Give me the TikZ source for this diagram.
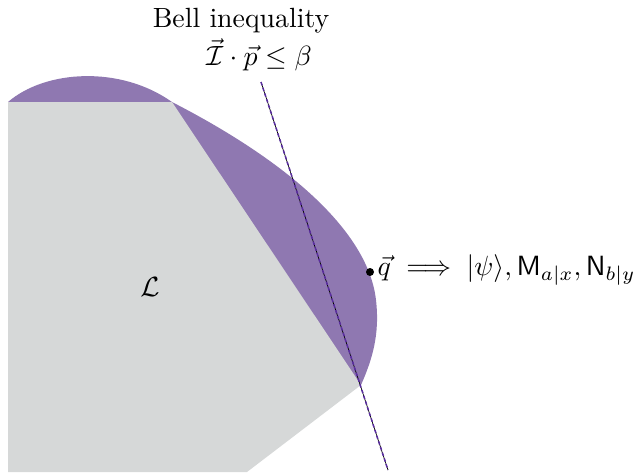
\documentclass[tikz,border=0pt]{standalone}
\usepackage{amsmath,amssymb}
\definecolor{blobpurple}{HTML}{8F78B1}
\definecolor{localgray}{HTML}{D6D8D8}
\definecolor{dashpurple}{HTML}{5A2DA0}
\begin{document}
\begin{tikzpicture}[x=1pt,y=-1pt,
  lbl/.style={inner sep=0pt, scale=2.78},
  dotstyle/.style={circle, fill=black, inner sep=0pt, minimum size=8pt}]
\useasboundingbox (0,0) rectangle (635,472);
% quantum set (purple)
\fill[blobpurple] (8,102) .. controls (45,70) and (120,65) .. (172,102)
  .. controls (285,160) and (368,230) .. (376,300)
  .. controls (380,335) and (372,360) .. (361,385)
  -- cycle;
% local polytope (gray)
\fill[localgray] (8,102) -- (172,102) -- (361,385) -- (247,472) -- (8,472) -- cycle;
% Bell inequality line
\coordinate (ltop) at (261,82);
\coordinate (lbot) at (388,470);
\draw[black, line width=0.7pt] (ltop) -- (lbot);
\draw[dashpurple, line width=1.5pt, dash pattern=on 3.5pt off 2.5pt] (ltop) -- (lbot);
% labels
\node[lbl] (bell) at (241,21) {Bell inequality};
\node[lbl] (ineq) at (259,55) {$\vec{\mathcal{I}}\cdot\vec{p}\leq\beta$};
\node[lbl] (L) at (150,287) {$\mathcal{L}$};
\node[dotstyle] (q) at (370,272) {};
\node[lbl, anchor=west] (qlabel) at (377,270) {$\vec{q}\implies|\psi\rangle,\mathsf{M}_{a|x},\mathsf{N}_{b|y}$};
\end{tikzpicture}
\end{document}
